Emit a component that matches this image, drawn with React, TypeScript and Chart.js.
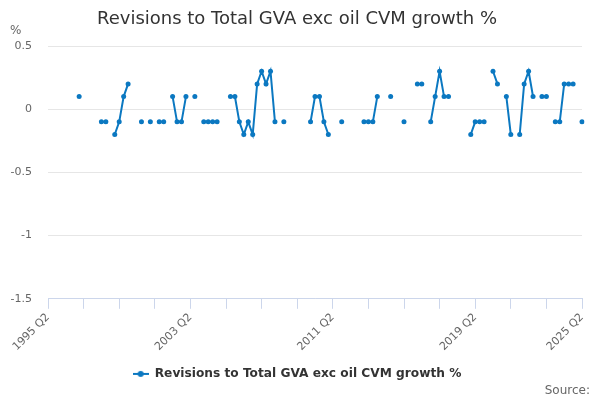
import { useEffect, useRef } from 'react';
import { Chart, registerables } from 'chart.js';

Chart.register(...registerables);

const chartTitle = 'Revisions to Total GVA exc oil CVM growth %';
const seriesName = 'Revisions to Total GVA exc oil CVM growth %';

// 1995 Q2 .. 2025 Q2, one label per quarter
const quarters: string[] = [];
for (let i = 0; i < 121; i++) {
  quarters.push(`${1995 + Math.floor((i + 1) / 4)} Q${((i + 1) % 4) + 1}`);
}

// labels shown on the x axis, tick marks every 2 years
const shownQuarters = ['1995 Q2', '2003 Q2', '2011 Q2', '2019 Q2', '2025 Q2'];
const tickEvery = 8;

// revisions, percentage points (null = no revision)
const revisions: (number | null)[] = [
  null, null, null, null, null, null, null, 0.1, null, null,
  null, null, -0.1, -0.1, null, -0.2, -0.1, 0.1, 0.2, null,
  null, -0.1, null, -0.1, null, -0.1, -0.1, null, 0.1, -0.1,
  -0.1, 0.1, null, 0.1, null, -0.1, -0.1, -0.1, -0.1, null,
  null, 0.1, 0.1, -0.1, -0.2, -0.1, -0.2, 0.2, 0.3, 0.2,
  0.3, -0.1, null, -0.1, null, null, null, null, null, -0.1,
  0.1, 0.1, -0.1, -0.2, null, null, -0.1, null, null, null,
  null, -0.1, -0.1, -0.1, 0.1, null, null, 0.1, null, null,
  -0.1, null, null, 0.2, 0.2, null, -0.1, 0.1, 0.3, 0.1,
  0.1, null, null, null, null, -0.2, -0.1, -0.1, -0.1, null,
  0.3, 0.2, null, 0.1, -0.2, null, -0.2, 0.2, 0.3, 0.1,
  null, 0.1, 0.1, null, -0.1, -0.1, 0.2, 0.2, 0.2, null,
  -0.1,
];

const yMin = -1.5;
const yMax = 0.5;
const yStep = 0.5;

const blue = '#0b78c1';
const font = '"DejaVu Sans", sans-serif';

// title, the "%" unit and the source note sit outside Chart.js' own boxes
const headerText = {
  id: 'headerText',
  afterDraw(chart: Chart) {
    const { ctx } = chart;
    ctx.save();
    ctx.textBaseline = 'middle';
    ctx.font = `18px ${font}`;
    ctx.fillStyle = '#333333';
    ctx.textAlign = 'center';
    ctx.fillText(chartTitle, 297, 19);
    ctx.font = `12px ${font}`;
    ctx.fillStyle = '#666666';
    ctx.textAlign = 'left';
    ctx.fillText('%', 10, 31);
    ctx.textAlign = 'right';
    ctx.fillText('Source:', 590, 391);
    ctx.restore();
  },
};

function legendMarker() {
  const c = document.createElement('canvas');
  c.width = 16;
  c.height = 8;
  const g = c.getContext('2d');
  if (g) {
    g.strokeStyle = blue;
    g.lineWidth = 2;
    g.beginPath();
    g.moveTo(0, 4);
    g.lineTo(16, 4);
    g.stroke();
    g.fillStyle = blue;
    g.beginPath();
    g.arc(8, 4, 3, 0, Math.PI * 2);
    g.fill();
  }
  return c;
}

const App = () => {
  const canvasRef = useRef<HTMLCanvasElement | null>(null);

  useEffect(() => {
    if (!canvasRef.current) return;
    const chart = new Chart(canvasRef.current, {
      type: 'line',
      data: {
        labels: quarters,
        datasets: [
          {
            label: seriesName,
            data: revisions,
            borderColor: blue,
            backgroundColor: blue,
            borderWidth: 2,
            pointRadius: 2.5,
            pointHoverRadius: 2.5,
            pointBorderWidth: 0,
            spanGaps: false,
          },
        ],
      },
      options: {
        animation: false,
        responsive: true,
        maintainAspectRatio: false,
        layout: { padding: { top: 46, left: 0, right: 6, bottom: 10 } },
        plugins: {
          title: { display: false },
          legend: {
            position: 'bottom',
            labels: {
              usePointStyle: true,
              pointStyle: legendMarker(),
              pointStyleWidth: 16,
              color: '#333333',
              font: { family: font, size: 12.2, weight: 'bold' },
              padding: 10,
            },
          },
          tooltip: { enabled: false },
        },
        scales: {
          x: {
            type: 'category',
            offset: false,
            afterFit: (scale) => {
              scale.height = 59;
            },
            border: { display: true, color: '#ccd6eb', width: 1 },
            grid: {
              drawOnChartArea: false,
              drawTicks: true,
              tickLength: 10,
              color: (ctx) => (ctx.index % tickEvery === 0 ? '#ccd6eb' : 'rgba(0,0,0,0)'),
            },
            ticks: {
              autoSkip: false,
              minRotation: 45,
              maxRotation: 45,
              padding: 2,
              color: '#666666',
              font: { family: font, size: 11 },
              callback: (value, index) =>
                shownQuarters.includes(quarters[index]) ? quarters[index] : '',
            },
          },
          y: {
            min: yMin,
            max: yMax,
            afterFit: (scale) => {
              scale.width = 48;
            },
            border: { display: false },
            grid: { color: '#e6e6e6', drawTicks: false },
            ticks: {
              stepSize: yStep,
              padding: 16,
              color: '#666666',
              font: { family: font, size: 11 },
              callback: (value) => String(Number(value)),
            },
          },
          // empty strip on the right so the plot ends where the reference does
          gutter: {
            type: 'linear',
            position: 'right',
            afterFit: (scale) => {
              scale.width = 12;
            },
            border: { display: false },
            grid: { display: false },
            ticks: { display: false },
          },
        },
      },
      plugins: [headerText],
    });
    return () => chart.destroy();
  }, []);

  return (
    <div style={{ position: 'absolute', left: 0, top: 0, width: 600, height: 400 }}>
      <canvas ref={canvasRef} />
    </div>
  );
};

export default App;
